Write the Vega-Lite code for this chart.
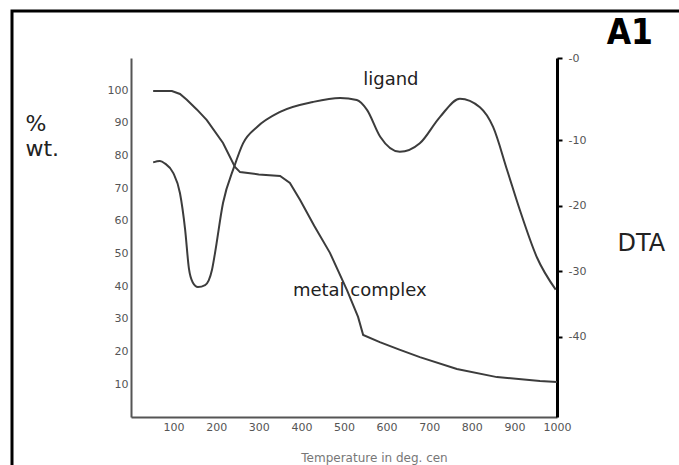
{
  "$schema": "https://vega.github.io/schema/vega-lite/v6.json",
  "width": 667,
  "height": 454,
  "autosize": {"type": "none"},
  "padding": {"left": 12, "top": 11, "right": 0, "bottom": 0},
  "background": "white",
  "title": {
    "text": "A1",
    "anchor": "end",
    "frame": "group",
    "orient": "top",
    "font": "Liberation Sans Narrow, DejaVu Sans Condensed, sans-serif",
    "fontSize": 35,
    "fontWeight": "bold",
    "color": "black",
    "baseline": "alphabetic",
    "offset": 0,
    "dx": -26,
    "dy": 68
  },
  "config": {
    "view": {"stroke": "black", "strokeWidth": 3, "strokeDash": [667, 1121, 454]},
    "axis": {
      "grid": false,
      "labelFont": "DejaVu Sans",
      "labelFontSize": 11,
      "labelColor": "#555",
      "labelOverlap": false,
      "labelFlush": false,
      "titleFont": "DejaVu Sans",
      "titleFontWeight": "normal"
    }
  },
  "datasets": {
    "tga": [
      {"temp": 52, "wt": 99.7},
      {"temp": 96, "wt": 99.7},
      {"temp": 115, "wt": 98.8},
      {"temp": 131, "wt": 97.0},
      {"temp": 155, "wt": 94.0},
      {"temp": 178, "wt": 90.8},
      {"temp": 216, "wt": 83.8},
      {"temp": 244, "wt": 76.5},
      {"temp": 256, "wt": 74.9},
      {"temp": 300, "wt": 74.2},
      {"temp": 350, "wt": 73.7},
      {"temp": 373, "wt": 71.6},
      {"temp": 397, "wt": 66.4},
      {"temp": 430, "wt": 58.5},
      {"temp": 467, "wt": 50.2},
      {"temp": 507, "wt": 38.8},
      {"temp": 533, "wt": 30.6},
      {"temp": 545, "wt": 25.1},
      {"temp": 584, "wt": 22.9},
      {"temp": 630, "wt": 20.6},
      {"temp": 678, "wt": 18.3},
      {"temp": 765, "wt": 14.7},
      {"temp": 859, "wt": 12.2},
      {"temp": 960, "wt": 11.0},
      {"temp": 1000, "wt": 10.7}
    ],
    "dta": [
      {"temp": 52, "dta": -13.4},
      {"temp": 68, "dta": -13.2},
      {"temp": 80, "dta": -13.6},
      {"temp": 99, "dta": -15.0},
      {"temp": 115, "dta": -18.1},
      {"temp": 127, "dta": -23.6},
      {"temp": 136, "dta": -29.6},
      {"temp": 145, "dta": -31.7},
      {"temp": 157, "dta": -32.4},
      {"temp": 174, "dta": -32.1},
      {"temp": 190, "dta": -29.8},
      {"temp": 197, "dta": -27.3},
      {"temp": 216, "dta": -19.6},
      {"temp": 242, "dta": -14.1},
      {"temp": 263, "dta": -10.5},
      {"temp": 296, "dta": -8.0},
      {"temp": 350, "dta": -5.7},
      {"temp": 427, "dta": -4.2},
      {"temp": 491, "dta": -3.6},
      {"temp": 530, "dta": -3.9},
      {"temp": 554, "dta": -5.4},
      {"temp": 585, "dta": -9.5},
      {"temp": 631, "dta": -11.8},
      {"temp": 678, "dta": -10.5},
      {"temp": 725, "dta": -6.5},
      {"temp": 772, "dta": -3.7},
      {"temp": 819, "dta": -5.0},
      {"temp": 850, "dta": -8.0},
      {"temp": 883, "dta": -14.6},
      {"temp": 913, "dta": -20.7},
      {"temp": 953, "dta": -27.9},
      {"temp": 997, "dta": -32.8}
    ],
    "labels": [
      {"label": "ligand", "temp": 610, "wt": 101.5},
      {"label": "metal complex", "temp": 537, "wt": 37.0}
    ]
  },
  "layer": [
    {
      "layer": [
        {
          "data": {"name": "tga"},
          "mark": {"type": "line", "color": "#3c3c3c", "strokeWidth": 2},
          "encoding": {
            "x": {
              "field": "temp", "type": "quantitative",
              "scale": {"domain": [0, 1000], "range": [119, 545], "nice": false, "zero": false},
              "axis": {
                "orient": "bottom", "offset": -48,
                "values": [100, 200, 300, 400, 500, 600, 700, 800, 900, 1000],
                "format": "d",
                "ticks": false, "labelPadding": 4,
                "domainColor": "#555", "domainWidth": 2,
                "title": "Temperature in deg. cen",
                "titleFontSize": 12, "titleColor": "#777",
                "titleX": 362, "titleY": 44, "titleAlign": "center", "titleBaseline": "alphabetic"
              }
            },
            "y": {
              "field": "wt", "type": "quantitative",
              "scale": {"domain": [0, 109.8], "range": [406, 47], "nice": false, "zero": false},
              "axis": {
                "orient": "left", "offset": -119,
                "values": [10, 20, 30, 40, 50, 60, 70, 80, 90, 100],
                "ticks": false, "labelPadding": 3,
                "domainColor": "#555", "domainWidth": 2,
                "title": ["%", "wt."],
                "titleAngle": 0, "titleX": -106, "titleY": 119,
                "titleAlign": "left", "titleBaseline": "alphabetic",
                "titleFontSize": 22, "titleColor": "#222", "titleLineHeight": 25
              }
            }
          }
        },
        {
          "data": {"name": "labels"},
          "mark": {"type": "text", "font": "DejaVu Sans", "fontSize": 18, "color": "#222", "align": "center", "baseline": "alphabetic"},
          "encoding": {
            "x": {"field": "temp", "type": "quantitative"},
            "y": {"field": "wt", "type": "quantitative"},
            "text": {"field": "label"}
          }
        }
      ]
    },
    {
      "data": {"name": "dta"},
      "mark": {"type": "line", "color": "#3c3c3c", "strokeWidth": 2, "interpolate": "monotone"},
      "encoding": {
        "x": {"field": "temp", "type": "quantitative"},
        "y": {
          "field": "dta", "type": "quantitative",
          "scale": {"domain": [-52.2, 2.5], "range": [406, 47], "nice": false, "zero": false},
          "axis": {
            "orient": "right", "offset": -122,
            "values": [2.5, -10, -20, -30, -40],
            "labelExpr": "datum.value > 0 ? '-0' : '-' + (-datum.value)",
            "tickSize": 5, "tickWidth": 2, "tickColor": "black",
            "domainColor": "black", "domainWidth": 3,
            "labelPadding": 6,
            "title": "DTA",
            "titleAngle": 0, "titleX": 60, "titleY": 239,
            "titleAlign": "left", "titleBaseline": "alphabetic",
            "titleFontSize": 24, "titleColor": "#222"
          }
        }
      }
    }
  ],
  "resolve": {"scale": {"y": "independent"}, "axis": {"y": "independent"}}
}
